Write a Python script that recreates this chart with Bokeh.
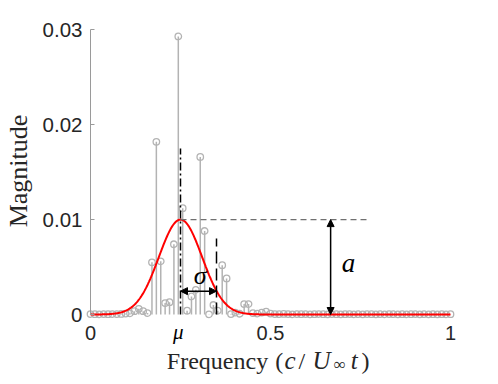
import numpy as np
from bokeh.plotting import figure
from bokeh.models import Range1d, Label, Arrow, NormalHead, FixedTicker
from bokeh.embed import file_html
from bokeh.resources import INLINE

# ---- data ----
n_bins = 83
freq = [i / (n_bins - 1) for i in range(n_bins)]
magnitude = [
    0.00005, 0.00003, 0.00002, 0.00004, 0.00003, 0.00005, 0.00004, 0.00006, 0.00010, 0.00012,
    0.00035, 0.00060, 0.00035, 0.00015, 0.00550, 0.01820, 0.00560, 0.00120, 0.00130, 0.00740,
    0.02930, 0.01120, 0.00040, 0.00190, 0.00260, 0.01660, 0.00880, 0.00002, 0.00100, 0.00040,
    0.00520, 0.00380, 0.00005, 0.00020, 0.00008, 0.00110, 0.00110, 0.00015, 0.00010, 0.00020,
    0.00030, 0.00010, 0.00004, 0.00003, 0.00006, 0.00004, 0.00002, 0.00005, 0.00003, 0.00004,
    0.00002, 0.00003, 0.00005, 0.00003, 0.00002, 0.00004, 0.00003, 0.00002, 0.00003, 0.00004,
    0.00002, 0.00003, 0.00002, 0.00004, 0.00003, 0.00002, 0.00003, 0.00002, 0.00004, 0.00003,
    0.00002, 0.00003, 0.00002, 0.00003, 0.00004, 0.00002, 0.00003, 0.00002, 0.00003, 0.00002,
    0.00003, 0.00002, 0.00003,
]
mu = 0.25
a_amp = 0.01
sigma_fit = 0.06
sigma_mark = 0.10
mu_line_top = 0.0175
sigma_line_top = 0.008
sigma_arrow_y = 0.00246
a_arrow_x = 0.667
a_guide_end = 0.77

y_ticks = [0, 0.01, 0.02, 0.03]
y_tick_labels = ["0", "0.01", "0.02", "0.03"]
x_ticks = [0, 0.5, 1]
x_tick_labels = ["0", "0.5", "1"]

GRAY = "#b3b3b3"
SERIF = "Liberation Serif"
SANS = "Liberation Sans"

W, H = 496, 382
PX_X = 360.0    # pixels per unit frequency
PX_Y = 9490.0   # pixels per unit magnitude
X0, Y0 = 90.0, 314.0  # pixel position of the origin

p = figure(width=W, height=H,
           x_range=Range1d(-X0 / PX_X, (W - X0) / PX_X),
           y_range=Range1d(-(H - Y0) / PX_Y, Y0 / PX_Y),
           output_backend="svg", toolbar_location=None,
           min_border_left=0, min_border_right=0,
           min_border_top=0, min_border_bottom=0)
p.grid.visible = False
p.outline_line_color = None
p.background_fill_color = "white"
p.border_fill_color = "white"

# y axis
ya = p.yaxis[0]
ya.fixed_location = 0
ya.bounds = (0, 0.03)
ya.ticker = FixedTicker(ticks=y_ticks)
ya.major_label_overrides = {t: s for t, s in zip(y_ticks, y_tick_labels)}
ya.axis_line_color = "#9a9a9a"
ya.major_tick_line_color = "#9a9a9a"
ya.major_tick_in = 4
ya.major_tick_out = 0
ya.minor_tick_line_color = None
ya.major_label_text_font = SANS
ya.major_label_text_font_size = "20.5px"
ya.major_label_text_color = "#262626"
ya.major_label_standoff = 8

# x axis
xa = p.xaxis[0]
xa.fixed_location = 0
xa.ticker = FixedTicker(ticks=x_ticks)
xa.major_label_overrides = {t: s for t, s in zip(x_ticks, x_tick_labels)}
xa.axis_line_color = None
xa.major_tick_line_color = None
xa.minor_tick_line_color = None
xa.major_label_text_font = SANS
xa.major_label_text_font_size = "20px"
xa.major_label_text_color = "#262626"
xa.major_label_standoff = 5

# stems
p.segment(x0=freq, y0=[0] * n_bins, x1=freq, y1=magnitude, line_color=GRAY, line_width=1.5)
p.scatter(freq, magnitude, marker="circle", size=6.5, fill_color=None,
          line_color=GRAY, line_width=1.3)

# gaussian fit
xs = np.linspace(0, 1, 500)
ys = a_amp * np.exp(-(xs - mu) ** 2 / (2 * sigma_fit ** 2))
p.line(xs, ys, line_color="#ff0000", line_width=2)

# guides
p.segment(x0=[mu], y0=[0], x1=[mu], y1=[mu_line_top], line_color="black",
          line_dash="8 3 2 3", line_width=1.5)
p.segment(x0=[mu + sigma_mark], y0=[0], x1=[mu + sigma_mark], y1=[sigma_line_top],
          line_color="black", line_dash="12 5", line_width=1.5)
p.segment(x0=[mu], y0=[a_amp], x1=[a_guide_end], y1=[a_amp], line_color="#707070",
          line_dash="6 4", line_width=1.3)

def head():
    return NormalHead(size=7, fill_color="black", line_color="black", line_width=1)

p.add_layout(Arrow(start=head(), end=head(), x_start=mu, y_start=sigma_arrow_y,
                   x_end=mu + sigma_mark, y_end=sigma_arrow_y, line_width=1.5, line_color="black"))
p.add_layout(Arrow(start=head(), end=head(), x_start=a_arrow_x, y_start=0,
                   x_end=a_arrow_x, y_end=a_amp, line_width=1.5, line_color="black"))

def lab(x, y, text, size, style="normal", align="center", angle=0.0, font=SERIF, color="#262626"):
    p.add_layout(Label(x=x, y=y, text=text, text_font=font, text_font_size=size,
                       text_font_style=style, text_align=align, text_baseline="alphabetic",
                       angle=angle, text_color=color))

# annotation labels
lab(0.3047, 0.00411, "σ", "26px", "italic", color="black")
lab(0.7167, 0.00543, "a", "27px", "italic", color="black")
lab(mu - 0.006, -0.00189, "μ", "21px", "italic", color="black")

# x axis label pieces
yb = -0.00485
lab(0.3528, yb, "Frequency", "24px")
lab(0.5244, yb, "(", "24px")
lab(0.5542, yb, "c", "25px", "italic")
lab(0.5869, yb, "/", "24px")
lab(0.6417, yb, "U", "25px", "italic")
lab(0.6922, -0.00527, "∞", "17px")
lab(0.7328, yb, "t", "25px", "italic")
lab(0.7639, yb, ")", "24px")

# y axis label
lab(-0.20, 0.01512, "Magnitude", "26px", angle=np.pi / 2)

open("out.html", "w").write(file_html(p, INLINE))
